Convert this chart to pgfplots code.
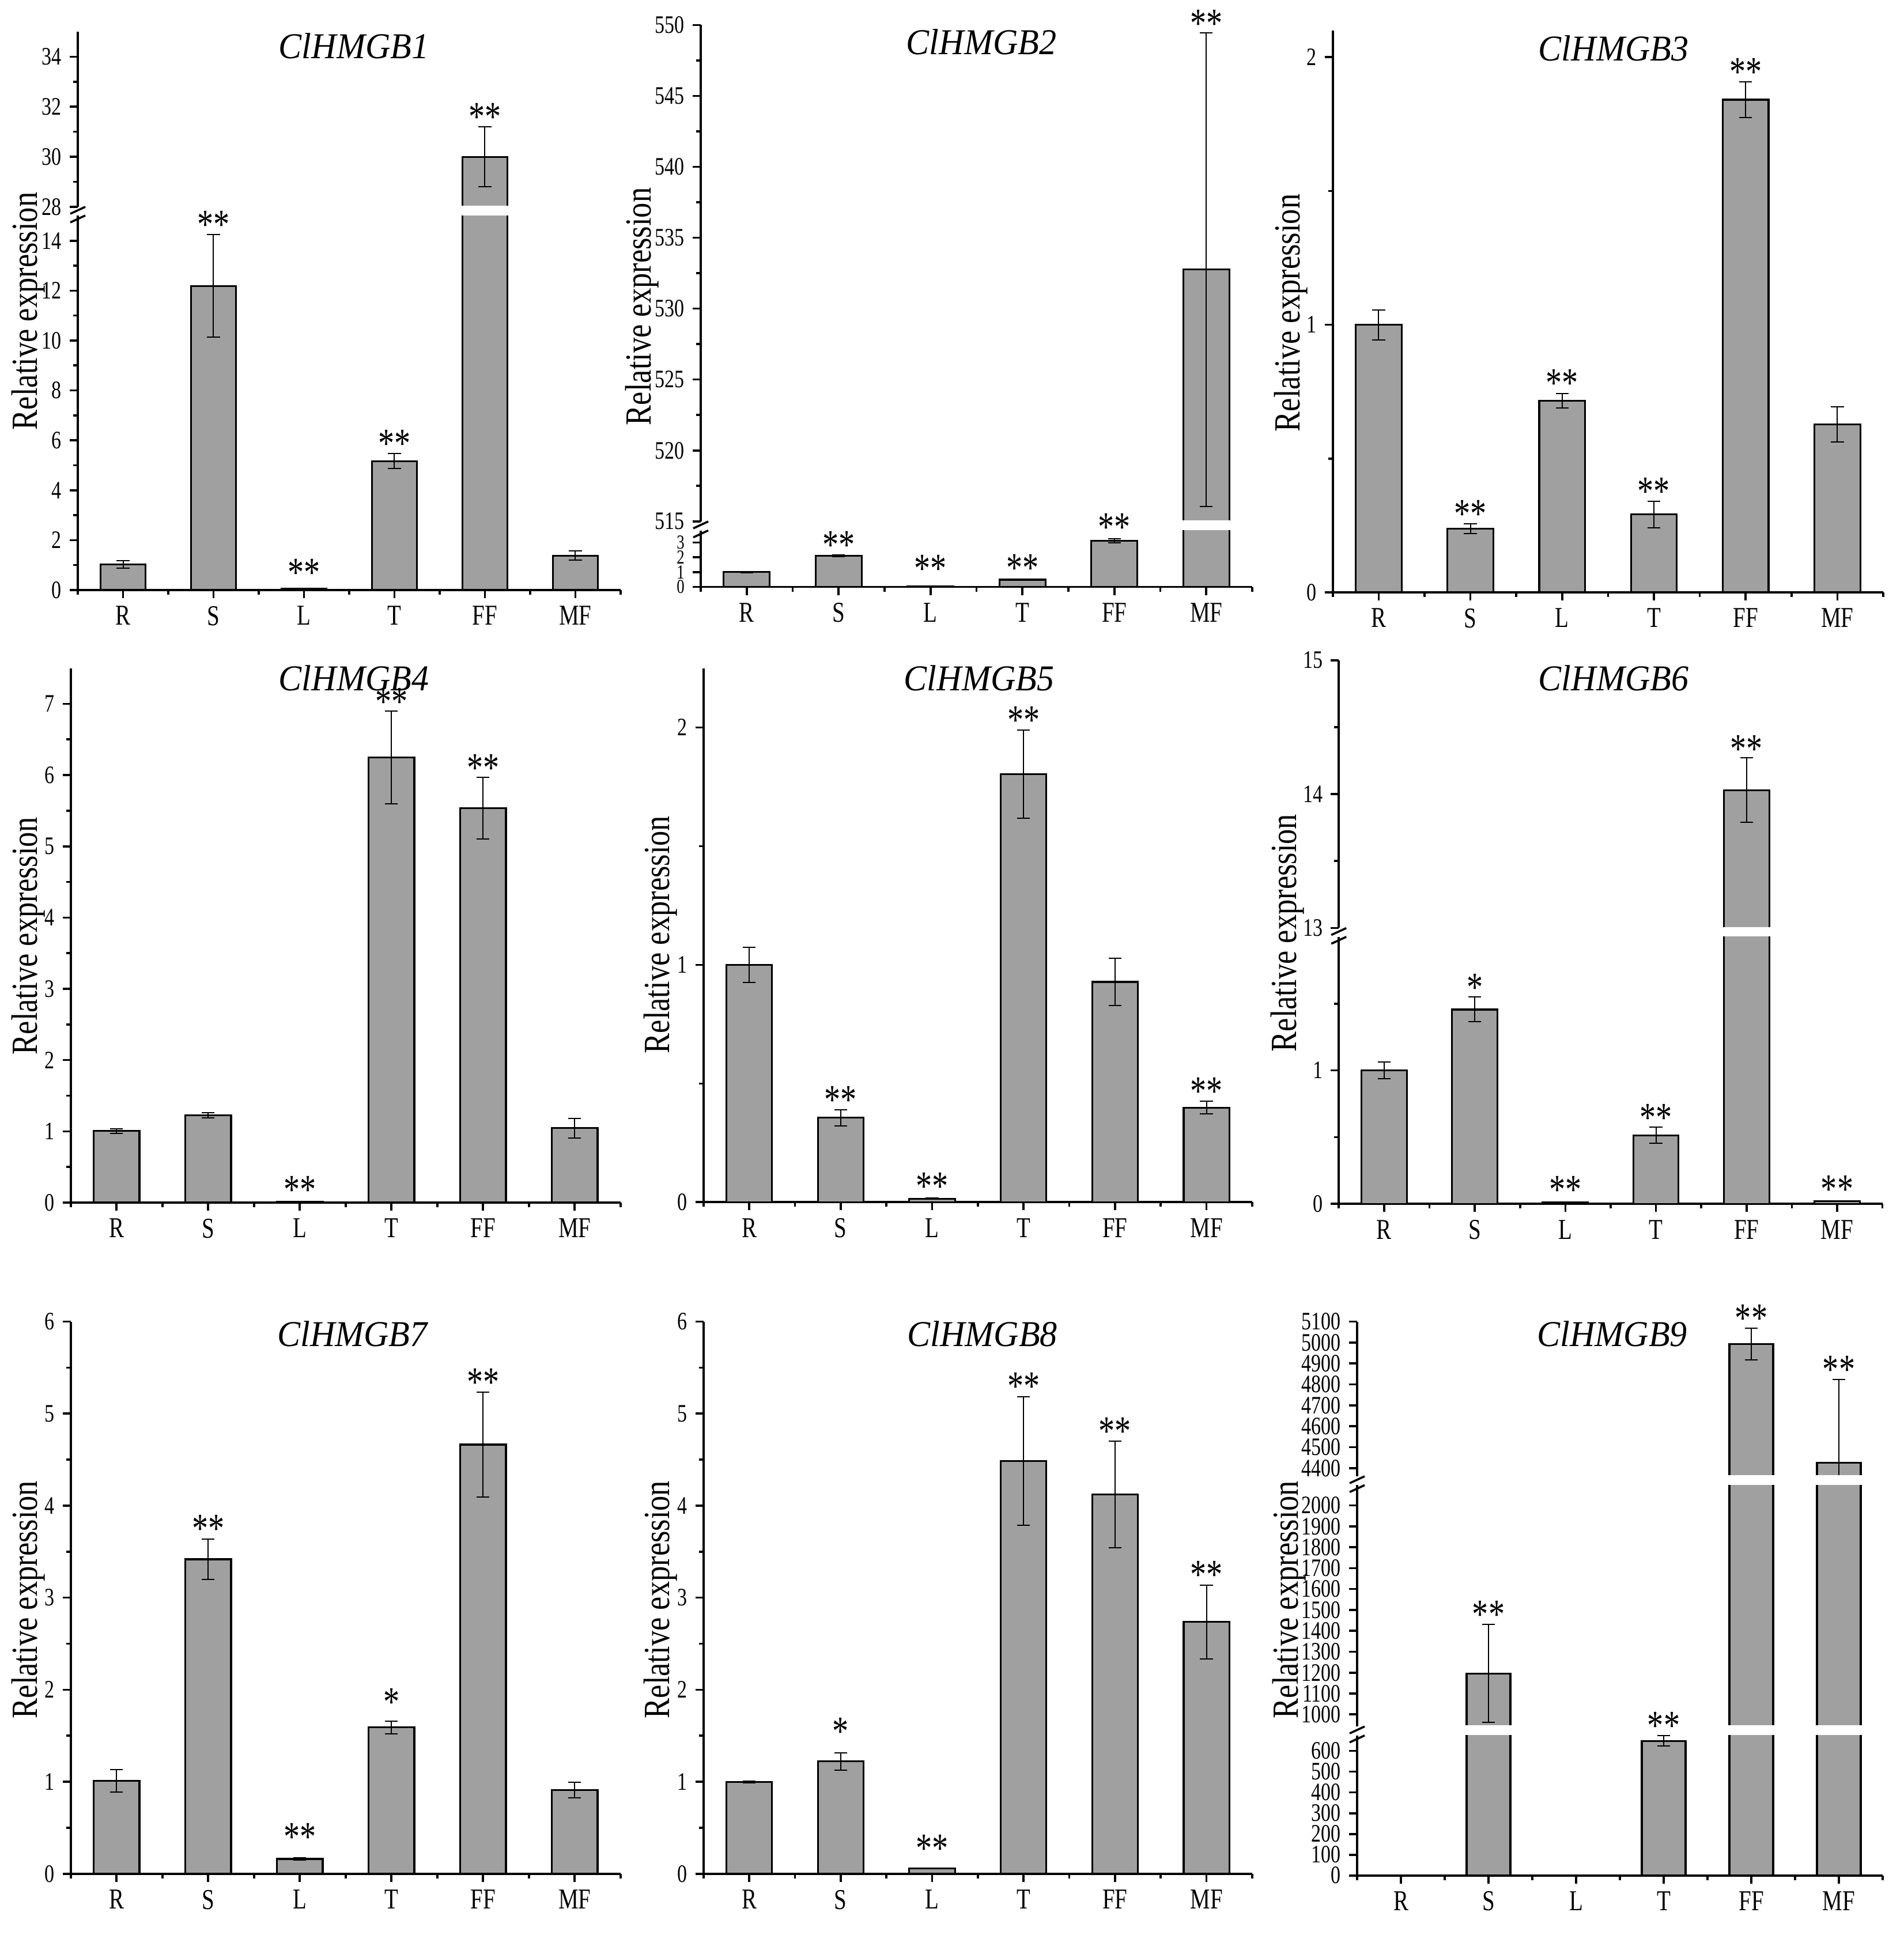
\documentclass[border=0pt]{standalone}
\usepackage{fontspec}
\setmainfont{Liberation Serif}[FakeStretch=0.78]
\newfontfamily\titlefont{Liberation Serif}[FakeStretch=0.95]
\newfontfamily\labelfont{Liberation Serif}[FakeStretch=0.82]
\usepackage{pgfplots}
\pgfplotsset{compat=1.18}
\definecolor{barfill}{HTML}{A0A0A0}
\newcommand\ytfont{\fontsize{10.9}{12}\selectfont}
\newcommand\ytsmall{\fontsize{8.6}{9}\selectfont}
\newcommand\xtfont{\fontsize{12.5}{14}\selectfont}
\newcommand\stfont{\fontsize{18}{20}\selectfont}
\newcommand\lbfont{\labelfont\fontsize{16}{18}\selectfont}
\newcommand\gtitle{\titlefont\itshape\fontsize{15.8}{18}\selectfont}
\pgfplotsset{
  base/.style={
    scale only axis, anchor=south west,
    xmin=0.5, xmax=6.5,
    axis y line*=left,
    tick align=outside,
    major tick length=3.5pt, minor tick length=2pt,
    tick style={line width=0.9pt, black},
    axis line style={line width=0.9pt, black},
    yticklabel style={font=\ytfont},
    /pgf/number format/assume math mode=true,
    /pgf/number format/1000 sep={},
    scaled y ticks=false,
  },
  lower/.style={base, axis x line*=bottom,
    xtick={1,...,6}, xticklabels={R,S,L,T,FF,MF},
    minor xtick={0.5,1.5,...,6.5},
    xticklabel style={font=\xtfont}},
  upper/.style={base, hide x axis},
  bars/.style={ybar, bar width=0.5, fill=barfill, draw=black, line width=0.8pt,
    error bars/.cd, y dir=both, y explicit,
    error bar style={line width=0.5pt, black},
    error mark options={rotate=90, line width=0.5pt, mark size=2.8pt, black}},
  stars/.style={only marks, mark=text, text mark={},
    nodes near coords, point meta=explicit symbolic,
    every node near coord/.append style={anchor=base, yshift=-1.6pt, inner sep=0pt, font=\stfont, text=black}},
}
\begin{document}
\begin{tikzpicture}
\path[use as bounding box, fill=white] (0,0) rectangle (826pt,841.25pt);

% ---------------- Panel 1 ----------------
\begin{axis}[upper, at={(33.75pt,751.5pt)}, width=235.5pt, height=76pt,
  ymin=28, ymax=35, ytick={28,30,32,34}, minor ytick={29,31,33}]
\addplot[bars] coordinates {(1,1.02) +- (0,0.15) (2,12.19) +- (0,2.05) (3,0.05) +- (0,0.01) (4,5.17) +- (0,0.30) (5,30.0) +- (0,1.2) (6,1.38) +- (0,0.19)};
\addplot[stars] coordinates {(5,31.2) [**]};
\end{axis}
\fill[white] (34.25pt,751.1pt) rectangle (270pt,752.0pt);
\begin{axis}[lower, at={(33.75pt,585.25pt)}, width=235.5pt, height=162.375pt,
  ymin=0, ymax=15, ytick={0,2,...,14}, minor ytick={1,3,...,13}]
\addplot[bars] coordinates {(1,1.02) +- (0,0.15) (2,12.19) +- (0,2.05) (3,0.05) +- (0,0.01) (4,5.17) +- (0,0.30) (5,30.0) +- (0,1.2) (6,1.38) +- (0,0.19)};
\addplot[stars] coordinates {(2,14.24) [**] (3,0.3) [**] (4,5.47) [**]};
\end{axis}

% ---------------- Panel 2 ----------------
\begin{axis}[upper, at={(304pt,615pt)}, width=239.25pt, height=215.375pt,
  ymin=515, ymax=550, ytick={515,520,...,550}, minor ytick={517.5,522.5,...,547.5}]
\addplot[bars] coordinates {(1,1.0) +- (0,0.03) (2,2.1) +- (0,0.05) (3,0.05) +- (0,0.01) (4,0.49) +- (0,0.03) (5,3.13) +- (0,0.13) (6,532.76) +- (0,16.7)};
\addplot[stars] coordinates {(6,549.4) [**]};
\end{axis}
\fill[white] (304.5pt,614.6pt) rectangle (544pt,615.5pt);
\begin{axis}[lower, at={(304pt,586.6pt)}, width=239.25pt, height=24.4pt,
  ymin=0, ymax=3.8, ytick={0,1,2,3}, yticklabel style={font=\ytsmall}]
\addplot[bars] coordinates {(1,1.0) +- (0,0.03) (2,2.1) +- (0,0.05) (3,0.05) +- (0,0.01) (4,0.49) +- (0,0.03) (5,3.13) +- (0,0.13) (6,532.76) +- (0,16.7)};
\addplot[stars] coordinates {(2,2.15) [**] (3,0.57) [**] (4,0.6) [**] (5,3.35) [**]};
\end{axis}

% ---------------- Panel 3 ----------------
\begin{axis}[lower, at={(578.175pt,584.25pt)}, width=238.825pt, height=243.8pt,
  ymin=0, ymax=2.1, ytick={0,1,2}, minor ytick={0.5,1.5}]
\addplot[bars] coordinates {(1,1.0) +- (0,0.056) (2,0.238) +- (0,0.018) (3,0.716) +- (0,0.027) (4,0.291) +- (0,0.05) (5,1.841) +- (0,0.067) (6,0.627) +- (0,0.066)};
\addplot[stars] coordinates {(2,0.256) [**] (3,0.744) [**] (4,0.341) [**] (5,1.908) [**]};
\end{axis}

% ---------------- Panel 4 ----------------
\begin{axis}[lower, at={(30.7pt,319.5pt)}, width=238.5pt, height=231.85pt,
  ymin=0, ymax=7.5, ytick={0,...,7}, minor ytick={0.5,1.5,...,6.5}]
\addplot[bars] coordinates {(1,1.004) +- (0,0.035) (2,1.225) +- (0,0.04) (3,0.01) +- (0,0.005) (4,6.245) +- (0,0.65) (5,5.536) +- (0,0.43) (6,1.044) +- (0,0.136)};
\addplot[stars] coordinates {(3,0.04) [**] (4,6.89) [**] (5,5.96) [**]};
\end{axis}

% ---------------- Panel 5 ----------------
\begin{axis}[lower, at={(305.175pt,319.675pt)}, width=238.075pt, height=231.675pt,
  ymin=0, ymax=2.25, ytick={0,1,2}, minor ytick={0.5,1.5}]
\addplot[bars] coordinates {(1,1.0) +- (0,0.074) (2,0.356) +- (0,0.034) (3,0.015) +- (0,0.003) (4,1.803) +- (0,0.185) (5,0.928) +- (0,0.1) (6,0.398) +- (0,0.027)};
\addplot[stars] coordinates {(2,0.39) [**] (3,0.025) [**] (4,1.988) [**] (6,0.426) [**]};
\end{axis}

% ---------------- Panel 6 ----------------
\begin{axis}[upper, at={(580.8pt,438.625pt)}, width=235.875pt, height=116.175pt,
  ymin=13, ymax=15, ytick={13,14,15}, minor ytick={13.5,14.5}]
\addplot[bars] coordinates {(1,1.0) +- (0,0.064) (2,1.456) +- (0,0.093) (3,0.01) +- (0,0.003) (4,0.514) +- (0,0.06) (5,14.03) +- (0,0.24) (6,0.02) +- (0,0.004)};
\addplot[stars] coordinates {(5,14.264) [**]};
\end{axis}
\fill[white] (581.3pt,438.2pt) rectangle (817.5pt,439.1pt);
\begin{axis}[lower, at={(580.8pt,318.95pt)}, width=235.875pt, height=115.825pt,
  ymin=0, ymax=2, ytick={0,1}, minor ytick={0.5,1.5}]
\addplot[bars] coordinates {(1,1.0) +- (0,0.064) (2,1.456) +- (0,0.093) (3,0.01) +- (0,0.003) (4,0.514) +- (0,0.06) (5,14.03) +- (0,0.24) (6,0.02) +- (0,0.004)};
\addplot[stars] coordinates {(2,1.547) [*] (3,0.03) [**] (4,0.571) [**] (6,0.035) [**]};
\end{axis}

% ---------------- Panel 7 ----------------
\begin{axis}[lower, at={(30.7pt,28.3pt)}, width=238.5pt, height=239.575pt,
  ymin=0, ymax=6, ytick={0,...,6}, minor ytick={0.5,1.5,...,5.5}]
\addplot[bars] coordinates {(1,1.01) +- (0,0.125) (2,3.417) +- (0,0.22) (3,0.162) +- (0,0.01) (4,1.59) +- (0,0.068) (5,4.664) +- (0,0.57) (6,0.909) +- (0,0.085)};
\addplot[stars] coordinates {(2,3.64) [**] (3,0.29) [**] (4,1.76) [*] (5,5.23) [**]};
\end{axis}

% ---------------- Panel 8 ----------------
\begin{axis}[lower, at={(305.175pt,28.3pt)}, width=238.075pt, height=239.575pt,
  ymin=0, ymax=6, ytick={0,...,6}, minor ytick={0.5,1.5,...,5.5}]
\addplot[bars] coordinates {(1,0.997) +- (0,0.01) (2,1.221) +- (0,0.095) (3,0.057) +- (0,0.005) (4,4.484) +- (0,0.70) (5,4.12) +- (0,0.58) (6,2.736) +- (0,0.40)};
\addplot[stars] coordinates {(2,1.436) [*] (3,0.17) [**] (4,5.19) [**] (5,4.70) [**] (6,3.14) [**]};
\end{axis}

% ---------------- Panel 9 ----------------
\begin{axis}[upper, at={(588.75pt,200.75pt)}, width=228pt, height=67.075pt,
  ymin=4361, ymax=5100, ytick={4400,4500,...,5100}]
\addplot[bars] coordinates {(1,1) +- (0,0) (2,1196) +- (0,235) (3,0.5) +- (0,0) (4,648) +- (0,25) (5,4993) +- (0,75) (6,4425) +- (0,398)};
\addplot[stars] coordinates {(5,5068) [**] (6,4823) [**]};
\end{axis}
\fill[white] (589.25pt,200.35pt) rectangle (817.5pt,201.25pt);
\begin{axis}[upper, at={(588.75pt,92.175pt)}, width=228pt, height=104.725pt,
  ymin=942, ymax=2097, ytick={1000,1100,...,2000}]
\addplot[bars] coordinates {(1,1) +- (0,0) (2,1196) +- (0,235) (3,0.5) +- (0,0) (4,648) +- (0,25) (5,4993) +- (0,75) (6,4425) +- (0,398)};
\addplot[stars] coordinates {(2,1431) [**]};
\end{axis}
\fill[white] (589.25pt,91.75pt) rectangle (817.5pt,92.65pt);
\begin{axis}[lower, at={(588.75pt,27.575pt)}, width=228pt, height=60.75pt,
  ymin=0, ymax=675, ytick={0,100,...,600}]
\addplot[bars] coordinates {(1,1) +- (0,0) (2,1196) +- (0,235) (3,0.5) +- (0,0) (4,648) +- (0,25) (5,4993) +- (0,75) (6,4425) +- (0,398)};
\addplot[stars] coordinates {(4,673) [**]};
\end{axis}

% ---------------- break marks ----------------
\begin{scope}[line width=0.9pt]
\draw (30.5pt,748.5pt) -- (37pt,751.5pt); \draw (30.5pt,744.75pt) -- (37pt,747.75pt);
\draw (300.75pt,612pt) -- (307.25pt,615pt); \draw (300.75pt,608.1pt) -- (307.25pt,611.1pt);
\draw (577.55pt,435.6pt) -- (584.05pt,438.6pt); \draw (577.55pt,431.8pt) -- (584.05pt,434.8pt);
\draw (585.5pt,89.2pt) -- (592pt,92.2pt); \draw (585.5pt,85.3pt) -- (592pt,88.3pt);
\draw (585.5pt,197.75pt) -- (592pt,200.75pt); \draw (585.5pt,193.9pt) -- (592pt,196.9pt);
\end{scope}

% ---------------- titles ----------------
\node[anchor=base, inner sep=0pt] at (153.5pt,815.8pt) {\gtitle ClHMGB1};
\node[anchor=base, inner sep=0pt] at (425.75pt,817.6pt) {\gtitle ClHMGB2};
\node[anchor=base, inner sep=0pt] at (700pt,814.85pt) {\gtitle ClHMGB3};
\node[anchor=base, inner sep=0pt] at (153.5pt,541.7pt) {\gtitle ClHMGB4};
\node[anchor=base, inner sep=0pt] at (424.75pt,541.7pt) {\gtitle ClHMGB5};
\node[anchor=base, inner sep=0pt] at (700pt,541.6pt) {\gtitle ClHMGB6};
\node[anchor=base, inner sep=0pt] at (152.9pt,257.2pt) {\gtitle ClHMGB7};
\node[anchor=base, inner sep=0pt] at (426.2pt,257.2pt) {\gtitle ClHMGB8};
\node[anchor=base, inner sep=0pt] at (699.45pt,257.1pt) {\gtitle ClHMGB9};

% ---------------- y labels ----------------
\foreach \xx/\yy in {12.25/706.25, 278.5/708.25, 560/705.5, 12.25/435.25, 286.5/435.75, 558.5/436.5, 12.25/147.25, 286.5/147.25, 559.25/147.25}
  \node[rotate=90, inner sep=0pt, font=\lbfont] at (\xx pt,\yy pt) {Relative expression};
\end{tikzpicture}
\end{document}
